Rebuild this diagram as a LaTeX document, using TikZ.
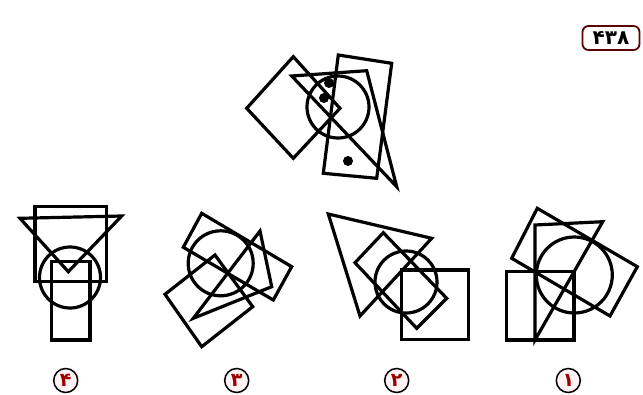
\documentclass[tikz,border=0pt]{standalone}
\usepackage{fontspec}
\usepackage{tikz}
\usetikzlibrary{positioning}
\newfontfamily\arabicfont[Script=Arabic]{DejaVu Sans}

\begin{document}
\begin{tikzpicture}[
          x=1pt, y=-1pt,
          every node/.style={font=\arabicfont},
          shp/.style={line width=3.2pt,line join=miter},
          dot/.style={circle,fill=black,inner sep=0pt,minimum size=10pt},
          num/.style={circle,draw=black,line width=1.5pt,fill=red!5,text=red!60!black,
                      inner sep=0pt,minimum size=24pt,font=\arabicfont\bfseries\fontsize{19}{19}\selectfont},
        ]
        \useasboundingbox[fill=white] (0,0) rectangle (643,394);
        % question
        \draw[shp] (246.7,108.3) -- (293.3,56.7) -- (340,108.3) -- (293.3,158.3) -- cycle;
        \draw[shp] (338.3,55) -- (391.7,63.3) -- (376.7,178.3) -- (323.3,173.3) -- cycle;
        \draw[shp] (291.7,76) -- (366.7,70.7) -- (396.7,186.7) -- cycle;
        \draw[shp] (338,107) circle (31);
        \node[dot] (d1) at (329,83) {};
        \node[dot] (d2) at (324,98) {};
        \node[dot] (d3) at (348,161) {};
        % choice 4
        \draw[shp] (35,206.7) rectangle (106.7,281.7);
        \draw[shp] (20,218.3) -- (121.7,216) -- (68.3,271.7) -- cycle;
        \draw[shp] (70,277.5) circle (30.5);
        \draw[shp] (51.7,261.7) rectangle (90,340);
        % choice 3
        \draw[shp] (201.7,213.3) -- (291.7,266.7) -- (273.3,300) -- (183.3,247.3) -- cycle;
        \draw[shp] (220.7,263.3) circle (32.5);
        \draw[shp] (260,231) -- (271.7,286.7) -- (193.3,318.3) -- cycle;
        \draw[shp] (215,255) -- (252.7,306.7) -- (201.7,346.7) -- (165,294.3) -- cycle;
        % choice 2
        \draw[shp] (328.3,214) -- (431.7,238.3) -- (360,316) -- cycle;
        \draw[shp] (383.3,232.7) -- (446.7,298.3) -- (416.7,328.3) -- (355,262.7) -- cycle;
        \draw[shp] (406,282) circle (31);
        \draw[shp] (401.7,270) rectangle (468.3,339.3);
        % choice 1
        \draw[shp] (537.3,208.3) -- (637.3,266.7) -- (610,316) -- (511.7,258.3) -- cycle;
        \draw[shp] (535,225) -- (602.7,221.7) -- (535,340) -- cycle;
        \draw[shp] (574.3,275) circle (38);
        \draw[shp] (506.7,271.7) rectangle (574,340);
        % labels
        \foreach \d/\x in {۴/65.7,۳/236.7,۲/396.7,۱/568.3} {
          \node[num] (c\x) at (\x,380.5) {\d};
        }
        \node[draw=red!35!black,line width=1.8pt,rounded corners=6pt,fill=white,
              minimum width=57pt,minimum height=24pt,inner sep=0pt,
              font=\arabicfont\bfseries\fontsize{20}{20}\selectfont] (qno) at (611,38) {۴۳۸};
      \end{tikzpicture}
\end{document}
